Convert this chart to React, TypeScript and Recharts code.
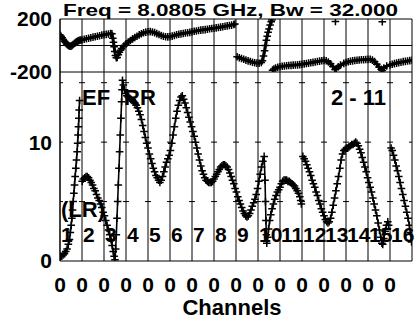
import React from "react";
import {
  CartesianGrid,
  Line,
  LineChart,
  ReferenceDot,
  ReferenceLine,
  XAxis,
  YAxis,
} from "recharts";

const FONT = "'Liberation Sans', Arial, Helvetica, sans-serif";

// channel 0 of every IF, plus the right edge
const ifStarts = [0, 1, 2, 3, 4, 5, 6, 7, 8, 9, 10, 11, 12, 13, 14, 15, 16];
const ifTickLabels = ["0", "0", "0", "0", "0", "0", "0", "0", "0", "0", "0", "0", "0", "0", "0", "0"];
const ifNumbers = ["1", "2", "3", "4", "5", "6", "7", "8", "9", "10", "11", "12", "13", "14", "15", "16"];
const minorTicks = Array.from({ length: 81 }, (_, i) => i / 5);

// amplitude (bottom panel); null = gap between IF pieces
const ampChan = [
  0.02, 0.08, 0.14, 0.2, 0.26, 0.32, 0.38, 0.43, 0.47, 0.51, 0.54, 0.57, 0.6, 0.63, 0.66, 0.69, 0.72, 0.75, 0.78, 0.8, 0.82, 0.84, 0.855, 0.87, 0.89, 0.95,
  1.01, 1.06, 1.12, 1.18, 1.24, 1.3, 1.36, 1.42, 1.48, 1.54, 1.6, 1.66, 1.72, 1.78, 1.84, 1.9, 1.96, 2.02, 2.08, 2.14, 2.2, 2.26, 2.32, 2.37, 2.42, 2.46, 2.5,
  2.53, 2.56, 2.59, 2.62, 2.65, 2.68, 2.71, 2.74, 2.77, 2.8, 2.82, 2.84, 2.88, 2.93, 2.98, 3.04, 3.1, 3.16, 3.22, 3.28, 3.34, 3.4, 3.46, 3.52, 3.58, 3.64,
  3.7, 3.76, 3.82, 3.88, 3.94, 4.0, 4.06, 4.12, 4.18, 4.24, 4.3, 4.36, 4.42, 4.48, 4.54, 4.6, 4.66, 4.72, 4.78, 4.84, 4.9, 4.96, 5.02, 5.08, 5.14, 5.2,
  5.26, 5.32, 5.38, 5.44, 5.5, 5.56, 5.62, 5.68, 5.74, 5.8, 5.86, 5.92, 5.98, 6.04, 6.1, 6.16, 6.22, 6.28, 6.34, 6.4, 6.46, 6.52, 6.58, 6.64, 6.7, 6.76,
  6.82, 6.88, 6.94, 7.0, 7.06, 7.12, 7.18, 7.24, 7.3, 7.36, 7.42, 7.48, 7.54, 7.6, 7.66, 7.72, 7.78, 7.84, 7.9, 7.96, 8.02, 8.08, 8.14, 8.2, 8.26, 8.32,
  8.38, 8.44, 8.5, 8.56, 8.62, 8.68, 8.74, 8.8, 8.86, 8.92, 8.98, 9.04, 9.1, 9.16, 9.22, 9.28, 9.32, 9.34, 9.36, 9.38, 9.4, 9.44, 9.48, 9.53, 9.58, 9.64,
  9.7, 9.76, 9.82, 9.88, 9.94, 10.0, 10.06, 10.12, 10.18, 10.24, 10.3, 10.36, 10.42, 10.48, 10.54, 10.6, 10.66, 10.72, 10.78, 10.84, 10.9, 10.94, 10.97, 11.0,
  11.04, 11.1, 11.16, 11.22, 11.28, 11.34, 11.4, 11.46, 11.52, 11.58, 11.64, 11.7, 11.76, 11.82, 11.88, 11.94, 12.0, 12.06, 12.12, 12.18, 12.24, 12.3,
  12.36, 12.42, 12.48, 12.54, 12.6, 12.66, 12.72, 12.78, 12.84, 12.9, 12.96, 13.02, 13.08, 13.14, 13.2, 13.26, 13.32, 13.38, 13.44, 13.5, 13.56, 13.62,
  13.68, 13.74, 13.8, 13.86, 13.92, 13.98, 14.04, 14.1, 14.16, 14.22, 14.28, 14.34, 14.4, 14.46, 14.52, 14.58, 14.63, 14.67, 14.72, 14.78, 14.84, 14.9,
  14.94, 15.0, 15.05, 15.1, 15.16, 15.22, 15.28, 15.34, 15.4, 15.46, 15.52, 15.58, 15.64, 15.7, 15.76, 15.82, 15.88, 15.93, 15.98,
];
const ampValue = [
  0.4, 0.4, 0.5, 0.6, 0.8, 1.0, 1.4, 1.8, 2.4, 3.0, 3.6, 4.3, 5.0, 5.7, 6.4, 7.1, 7.8, 8.5, 9.2, 9.9, 10.6, 11.3, 12.0, 12.7, 13.5, null,
  6.7, 6.9, 7.0, 7.1, 7.1, 7.0, 6.8, 6.6, 6.4, 6.1, 5.9, 5.6, 5.3, 5.1, 4.8, 4.5, 4.1, 3.8, 3.4, 3.0, 2.6, 2.2, 1.8, 1.3, 0.8, 0.4, 0.1,
  1.0, 2.2, 3.6, 5.0, 6.4, 7.8, 9.2, 10.6, 12.0, 13.4, 14.4, 15.2, 14.8, 14.4, 14.1, 13.9, 13.8, 13.7, 13.6, 13.5, 13.4, 13.3, 13.1, 12.9, 12.6, 12.3,
  11.9, 11.4, 10.9, 10.4, 9.9, 9.5, 9.0, 8.6, 8.2, 7.8, 7.5, 7.2, 7.0, 6.8, 6.6, 6.8, 7.1, 7.5, 7.9, 8.3, 8.6, 8.9, 9.3, 9.9, 10.6, 11.3,
  12.0, 12.6, 13.1, 13.5, 13.8, 13.9, 13.6, 13.3, 12.9, 12.5, 12.1, 11.7, 11.3, 10.9, 10.5, 10.0, 9.5, 9.0, 8.5, 8.0, 7.6, 7.3, 7.0, 6.8, 6.7, 6.6,
  6.6, 6.6, 6.7, 6.9, 7.1, 7.3, 7.5, 7.7, 7.9, 8.0, 8.1, 8.1, 8.0, 7.9, 7.7, 7.4, 7.1, 6.8, 6.5, 6.1, 5.8, 5.4, 5.1, 4.8, 4.5, 4.2,
  4.0, 3.8, 3.7, 3.8, 4.0, 4.3, 4.6, 4.9, 5.2, 5.6, 6.1, 6.7, 7.3, 7.9, 8.4, 8.8, 6.8, 5.0, 3.4, 2.2, 1.5, 2.0, 2.7, 3.4, 3.9, 4.4,
  4.8, 5.2, 5.5, 5.8, 6.0, 6.2, 6.5, 6.7, 6.8, 6.8, 6.8, 6.7, 6.7, 6.6, 6.5, 6.4, 6.3, 6.1, 5.9, 5.7, 5.4, 5.1, 4.8, null,
  8.8, 8.6, 8.4, 8.1, 7.8, 7.5, 7.2, 6.8, 6.5, 6.2, 5.8, 5.5, 5.1, 4.8, 4.4, 4.1, 3.8, 3.5, 3.3, 3.2, 3.3, 3.6,
  4.1, 4.7, 5.3, 5.9, 6.5, 7.1, 7.8, 8.5, 9.0, 9.3, 9.4, 9.5, 9.5, 9.6, 9.7, 9.8, 9.8, 9.9, 10.0, 9.9, 9.7, 9.4,
  9.1, 8.7, 8.3, 7.9, 7.5, 7.0, 6.6, 6.2, 5.8, 5.3, 4.8, 4.3, 3.8, 3.2, 2.6, 2.0, 1.5, 1.4, 1.9, 2.5, 3.0, 3.3,
  3.0, null, 9.5, 9.3, 8.9, 8.5, 8.0, 7.6, 7.1, 6.6, 6.1, 5.6, 5.1, 4.6, 4.1, 3.6, 3.0, 2.4, 1.6,
];

// phase in degrees (top panel)
const phaseChan = [
  0.0, 0.05, 0.1, 0.15, 0.2, 0.25, 0.3, 0.35, 0.4, 0.45, 0.5, 0.55, 0.6, 0.65, 0.7, 0.75, 0.8, 0.85, 0.9, 0.95, 1.0, 1.1, 1.2, 1.3, 1.4, 1.5, 1.6,
  1.7, 1.8, 1.9, 2.0, 2.1, 2.2, 2.3, 2.36, 2.4, 2.43, 2.46, 2.49, 2.52, 2.56, 2.6, 2.65, 2.7, 2.75, 2.8, 2.9, 3.0, 3.1, 3.2, 3.3, 3.4, 3.5, 3.6, 3.7,
  3.8, 3.9, 4.0, 4.1, 4.2, 4.3, 4.4, 4.5, 4.6, 4.7, 4.8, 4.9, 5.0, 5.1, 5.2, 5.3, 5.4, 5.5, 5.6, 5.7, 5.8, 5.9, 6.0, 6.1, 6.2, 6.3, 6.4, 6.5, 6.6,
  6.7, 6.8, 6.9, 7.0, 7.1, 7.2, 7.3, 7.4, 7.5, 7.6, 7.7, 7.8, 7.9, 7.95, 8.0,
  8.05, 8.15, 8.25, 8.35, 8.45, 8.55, 8.65, 8.75, 8.85, 8.95, 9.05, 9.15, 9.2, 9.25, 9.3, 9.34, 9.38, 9.42, 9.46, 9.5, 9.55, 9.6, 9.63, 9.645,
  9.66, 9.72, 9.8, 9.9, 10.0, 10.1, 10.2, 10.3, 10.4, 10.5, 10.6, 10.7, 10.8, 10.9, 11.0, 11.1, 11.2, 11.3, 11.4, 11.5, 11.6, 11.7, 11.8, 11.9, 12.0,
  12.1, 12.2, 12.3, 12.4, 12.5, 12.56, 12.65, 12.75, 12.9, 13.0, 13.1, 13.2, 13.3, 13.4, 13.5, 13.6, 13.7, 13.8, 13.9, 14.0, 14.1, 14.2, 14.3, 14.4,
  14.5, 14.6, 14.65, 14.72, 14.85, 15.0, 15.1, 15.2, 15.3, 15.4, 15.5, 15.6, 15.7, 15.8, 15.9, 16.0,
];
const phaseValue = [
  80, 70, 58, 45, 33, 22, 12, 4, -2, -6, -5, 0, 8, 15, 22, 28, 33, 37, 40, 41, 42, 47, 51, 55, 59, 63, 66,
  70, 74, 78, 81, 84, 87, 90, 88, 55, 25, -10, -45, -75, -92, -90, -70, -50, -35, -22, -5, 12, 26, 38, 50, 60, 70, 80, 89,
  96, 101, 104, 105, 102, 97, 90, 83, 76, 70, 66, 65, 67, 71, 76, 81, 85, 88, 91, 94, 96, 99, 103, 107, 110, 113, 116, 118, 120,
  123, 126, 128, 130, 133, 136, 139, 142, 145, 148, 151, 154, 158, 162, null,
  -85, -92, -98, -104, -110, -116, -121, -126, -130, -133, -134, -128, -115, -80, -40, 0, 40, 70, 100, 125, 155, 180, 192, null,
  -186, -178, -170, -164, -160, -157, -155, -153, -151, -150, -148, -147, -146, -144, -142, -139, -136, -133, -130, -127, -124, -121, -118, -115, -112,
  -115, -125, -138, -158, -182, -176, -160, -148, -135, -128, -123, -119, -116, -113, -111, -109, -108, -107, -106, -105, -104, -110, -122, -142,
  -162, -180, -188, -170, -155, -147, -142, -137, -133, -129, -126, -122, -120, -117, -114, -111,
];

// isolated points where the phase wrapped past -180
const wrapChan = [12.52, 14.65];
const wrapValue = [182, 180];

const ampData = ampChan.map((x, i) => ({ x, y: ampValue[i] }));
const phaseData = phaseChan.map((x, i) => ({ x, y: phaseValue[i] }));
const wrapData = wrapChan.map((x, i) => ({ x, y: wrapValue[i] }));

const tickFont = { fill: "#000", fontSize: 21, fontWeight: 700, fontFamily: FONT };

function Cross(props: any) {
  const { cx, cy, index } = props;
  if (cx == null || cy == null || Number.isNaN(cx) || Number.isNaN(cy)) return <g key={index} />;
  const h = 3.8;
  return (
    <path
      key={index}
      d={`M${cx - h} ${cy}H${cx + h}M${cx} ${cy - h}V${cy + h}`}
      stroke="#000"
      strokeWidth={1.5}
      fill="none"
    />
  );
}

function IfNumber(label: string) {
  return (props: any) => (
    <text
      x={props.cx + 1}
      y={props.cy - 19}
      fontSize={21}
      fontWeight={700}
      fontFamily={FONT}
      fill="#000"
    >
      {label}
    </text>
  );
}

const minorAxisProps = {
  type: "number" as const,
  domain: [0, 16],
  ticks: minorTicks,
  interval: 0,
  tick: false,
  tickSize: -3,
  axisLine: false,
  height: 0,
  allowDataOverflow: true,
  stroke: "#000",
};

export default function App() {
  const annot = { fontSize: 22, fontWeight: 700, fontFamily: FONT, fill: "#000" };
  return (
    <div style={{ position: "absolute", left: 0, top: 0, width: 416, height: 320, background: "#fff", overflow: "hidden" }}>
      <svg width={416} height={320} style={{ position: "absolute", left: 0, top: 0 }}>
        <text x={63} y={16} fontSize={17} fontWeight={700} fontFamily={FONT} fill="#000" textLength={335} lengthAdjust="spacingAndGlyphs">
          Freq = 8.0805 GHz, Bw = 32.000
        </text>
        <text x={82} y={105} {...annot}>EF</text>
        <text x={124} y={105} {...annot}>RR</text>
        <text x={331} y={105} {...annot}>2 - 11</text>
        <text x={61} y={217} {...annot}>(LR)</text>
        <text x={232} y={315} textAnchor="middle" {...annot}>Channels</text>
      </svg>

      {/* phase panel */}
      <LineChart
        width={416}
        height={92}
        margin={{ top: 19, right: 4, bottom: 20, left: 0 }}
        style={{ position: "absolute", left: 0, top: 0 }}
      >
        <CartesianGrid xAxisId="main" yAxisId="ph" stroke="#000" />
        <XAxis xAxisId="minorTop" orientation="top" {...minorAxisProps} />
        <XAxis xAxisId="minorBot" orientation="bottom" {...minorAxisProps} />
        <XAxis
          xAxisId="main"
          type="number"
          dataKey="x"
          domain={[0, 16]}
          ticks={ifStarts}
          interval={0}
          tickFormatter={() => ""}
          tickLine={false}
          axisLine={false}
          height={0}
          allowDataOverflow
        />
        <YAxis
          yAxisId="ph"
          domain={[-200, 200]}
          ticks={[-200, 200]}
          interval={0}
          width={60}
          tickLine={false}
          tickSize={0}
          tickMargin={8}
          axisLine={{ stroke: "#000" }}
          tick={tickFont}
          allowDataOverflow
        />
        <ReferenceLine xAxisId="main" yAxisId="ph" y={0} stroke="#000" />
        <Line
          xAxisId="main"
          yAxisId="ph"
          data={phaseData}
          dataKey="y"
          type="linear"
          stroke="#000"
          strokeWidth={3}
          dot={Cross}
          activeDot={false}
          connectNulls={false}
          isAnimationActive={false}
        />
        <Line
          xAxisId="main"
          yAxisId="ph"
          data={wrapData}
          dataKey="y"
          stroke="none"
          dot={Cross}
          activeDot={false}
          isAnimationActive={false}
        />
      </LineChart>

      {/* amplitude panel */}
      <LineChart
        width={416}
        height={320}
        margin={{ top: 72, right: 4, bottom: 29, left: 0 }}
        style={{ position: "absolute", left: 0, top: 0 }}
      >
        <CartesianGrid xAxisId="main" yAxisId="amp" horizontal={false} stroke="#000" />
        <XAxis xAxisId="minorBot" orientation="bottom" {...minorAxisProps} />
        <XAxis xAxisId="minorTop" orientation="top" {...minorAxisProps} />
        <XAxis
          xAxisId="main"
          type="number"
          dataKey="x"
          domain={[0, 16]}
          ticks={ifStarts}
          interval={0}
          tickFormatter={(v: number) => ifTickLabels[v] ?? ""}
          tickLine={false}
          tickSize={0}
          tickMargin={16}
          height={30}
          axisLine={{ stroke: "#000" }}
          tick={tickFont}
          allowDataOverflow
        />
        <YAxis
          yAxisId="amp"
          domain={[0, 15.9]}
          ticks={[0, 10]}
          interval={0}
          width={60}
          tickLine={false}
          tickSize={0}
          tickMargin={8}
          axisLine={{ stroke: "#000" }}
          tick={tickFont}
          allowDataOverflow
        />
        {[5, 10, 15].map((v) => (
          <ReferenceLine
            key={v}
            xAxisId="main"
            yAxisId="amp"
            y={v}
            stroke="#000"
            strokeDasharray="6 16"
            strokeDashoffset={3}
          />
        ))}
        {ifNumbers.map((n, i) => (
          <ReferenceDot
            key={n}
            xAxisId="main"
            yAxisId="amp"
            x={ifStarts[i]}
            y={0}
            r={0}
            shape={IfNumber(n)}
          />
        ))}
        <Line
          xAxisId="main"
          yAxisId="amp"
          data={ampData}
          dataKey="y"
          type="linear"
          stroke="#000"
          strokeWidth={1.6}
          dot={Cross}
          activeDot={false}
          connectNulls={false}
          isAnimationActive={false}
        />
      </LineChart>
    </div>
  );
}
